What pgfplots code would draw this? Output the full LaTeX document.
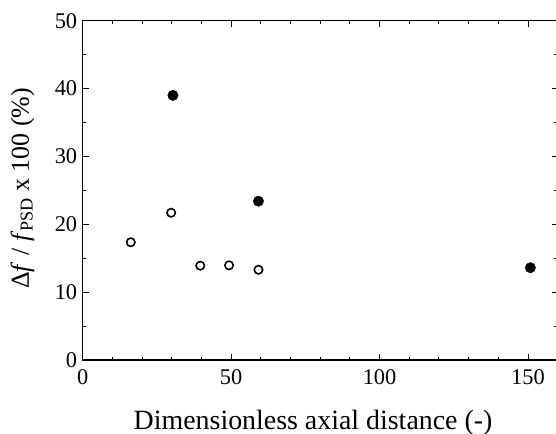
\documentclass[border=0pt]{standalone}
\usepackage{fontspec}
\setmainfont{Liberation Serif}
\usepackage{pgfplots}
\pgfplotsset{compat=1.18}
\begin{document}
\begin{tikzpicture}
\path[use as bounding box] (-82.7bp,-74bp) rectangle (473.3bp,360bp);
\begin{axis}[
  at={(0,0)}, anchor=south west,
  scale only axis,
  width=475bp, height=339.3bp,
  xmin=0, xmax=160, ymin=0, ymax=50,
  xtick={0,50,100,150}, ytick={0,10,20,30,40,50},
  minor xtick={10,20,30,40,60,70,80,90,110,120,130,140},
  minor ytick={5,15,25,35,45},
  tick align=inside,
  major tick length=6bp, minor tick length=3.5bp,
  every tick/.style={black, line width=1pt},
  axis line style={line width=1.2pt},
  /pgf/number format/assume math mode=true,
  ticklabel style={font=\fontsize{22.5}{27}\selectfont},
  xticklabel style={yshift=-6bp},
  yticklabel style={xshift=-2bp},
  xlabel style={font=\fontsize{28}{32}\selectfont, at={(axis description cs:0.485,-0.2034)}, anchor=base},
  ylabel style={font=\fontsize{26}{31}\selectfont, at={(axis description cs:-0.1267,0.506)}, anchor=center},
  xlabel={Dimensionless axial distance (-)},
  ylabel={Δ\textit{f} / \textit{f}\textsubscript{PSD} x 100 (\%)},
  clip=false,
]
\addplot[only marks, mark=*, mark size=5.2bp, black] coordinates {
  (30.4,39.0) (59.2,23.4) (150.8,13.6)
};
\addplot[only marks, mark=o, mark size=4.2bp, black, line width=1.6pt] coordinates {
  (16.2,17.35) (29.8,21.7) (39.6,13.9) (49.3,13.95) (59.2,13.3)
};
\end{axis}
\end{tikzpicture}
\end{document}
